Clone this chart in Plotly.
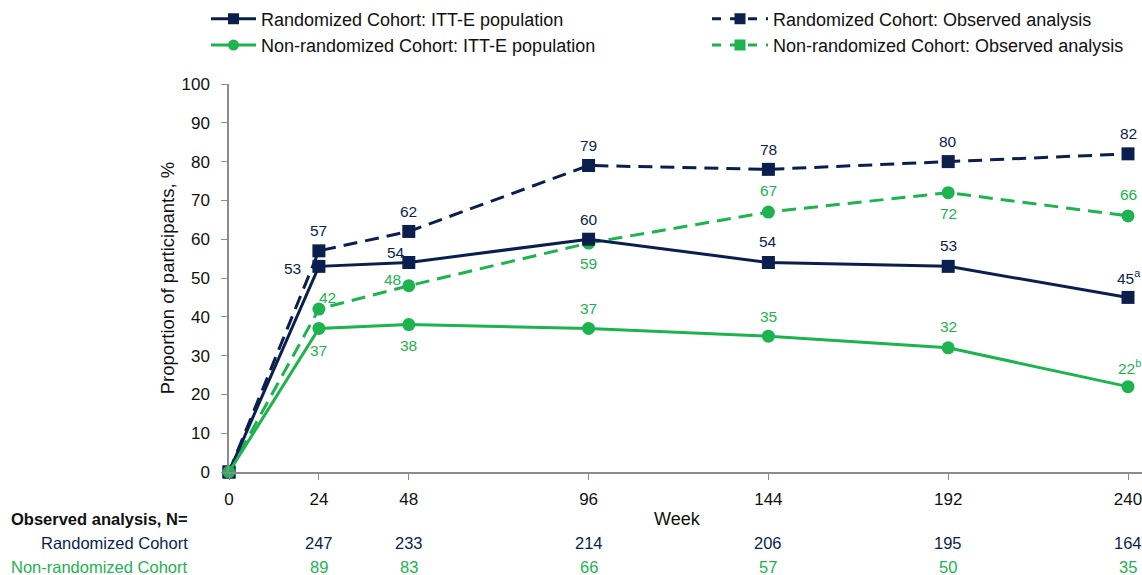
import plotly.graph_objects as go

weeks = [0, 24, 48, 96, 144, 192, 240]
rand_itt = [0, 53, 54, 60, 54, 53, 45]
rand_obs = [0, 57, 62, 79, 78, 80, 82]
nr_itt = [0, 37, 38, 37, 35, 32, 22]
nr_obs = [0, 42, 48, 59, 67, 72, 66]

# footnote marks on last labels
rand_itt_note = ["", "", "", "", "", "", "a"]
nr_itt_note = ["", "", "", "", "", "", "b"]

n_weeks = [24, 48, 96, 144, 192, 240]
n_rand = [247, 233, 214, 206, 195, 164]
n_nr = [89, 83, 66, 57, 50, 35]

NAVY = "#0b1f4f"
GREEN = "#1db34f"
TXT = "#111111"
FONT = "Liberation Sans, Arial, sans-serif"

W, H = 1142, 575
PL, PR, PT, PB = 229, 1142, 82, 472

def px(x):
    return (x - PL) / (PR - PL)

def py(y):
    return (PB - y) / (PB - PT)

fig = go.Figure()

def add(y, color, dash, symbol, name):
    fig.add_trace(go.Scatter(
        x=weeks, y=y, mode="lines+markers",
        line=dict(color=color, width=3, dash=dash),
        marker=dict(color=color, size=13, symbol=symbol),
        cliponaxis=False, showlegend=False, name=name, hoverinfo="skip"))

DASH = "14px,8px"
add(rand_obs, NAVY, DASH, "square", "Randomized Cohort: Observed analysis")
add(nr_obs, GREEN, DASH, "circle", "Non-randomized Cohort: Observed analysis")
add(rand_itt, NAVY, "solid", "square", "Randomized Cohort: ITT-E population")
add(nr_itt, GREEN, "solid", "circle", "Non-randomized Cohort: ITT-E population")

# legend-only entries
for name, color, dash, symbol, leg in [
    ("Randomized Cohort: ITT-E population", NAVY, "solid", "square", "legend"),
    ("Non-randomized Cohort: ITT-E population", GREEN, "solid", "circle", "legend"),
    ("Randomized Cohort: Observed analysis", NAVY, "dash", "square", "legend2"),
    ("Non-randomized Cohort: Observed analysis", GREEN, "dash", "square", "legend2"),
]:
    fig.add_trace(go.Scatter(x=[None], y=[None], mode="lines+markers", name=name,
                             line=dict(color=color, width=3, dash=dash),
                             marker=dict(color=color, size=11, symbol=symbol),
                             legend=leg, showlegend=True))

# data labels (offsets in pixels relative to the point)
def labels(vals, notes, color, offsets):
    for i, (w, v) in enumerate(zip(weeks, vals)):
        if i == 0:
            continue
        dx, dy = offsets[i]
        t = str(v)
        if notes and notes[i]:
            t += "<sup>" + notes[i] + "</sup>"
            dx += 1
        fig.add_annotation(x=w, y=v, xref="x", yref="y", text=t, showarrow=False,
                           xanchor="center", yanchor="middle", xshift=dx, yshift=-dy,
                           font=dict(size=15.5, color=color, family=FONT))

labels(rand_itt, rand_itt_note, NAVY,
       [None, (-26, 2), (-13, -10), (0, -20), (0, -21), (0, -21), (0, -20)])
labels(rand_obs, None, NAVY,
       [None, (0, -20), (0, -20), (0, -20), (0, -20), (0, -20), (0, -20)])
labels(nr_itt, nr_itt_note, GREEN,
       [None, (0, 22), (0, 21), (0, -20), (0, -20), (0, -21), (0, -20)])
labels(nr_obs, None, GREEN,
       [None, (9, -12), (-16, -6), (0, 20), (0, -22), (0, 21), (0, -21)])

axis_color = "#8c8c8c"
fig.update_xaxes(range=[0, 240 * (PR - PL) / 899], tickvals=weeks, ticks="outside", ticklen=6,
                 tickcolor=axis_color, showline=True, linecolor=axis_color, linewidth=1.5,
                 showgrid=False, zeroline=False, ticklabelstandoff=5,
                 ticklabeloverflow="allow",
                 tickfont=dict(size=17, color=TXT, family=FONT))
fig.update_yaxes(range=[0, 100], dtick=10, ticks="outside", ticklen=6,
                 tickcolor=axis_color, showline=True, linecolor=axis_color, linewidth=1.5,
                 showgrid=False, zeroline=False, ticklabelstandoff=8,
                 tickfont=dict(size=17, color=TXT, family=FONT),
                 title=dict(text="Proportion of participants, %",
                            font=dict(size=18.5, color=TXT, family=FONT), standoff=2))

fig.update_layout(
    width=W, height=H,
    margin=dict(l=PL, r=W - PR, t=PT, b=H - PB),
    plot_bgcolor="white", paper_bgcolor="white",
    font=dict(family=FONT),
    hovermode=False,
    legend=dict(x=px(206), y=py(-2), xanchor="left", yanchor="top", orientation="v",
                font=dict(size=18, color=TXT, family=FONT), tracegroupgap=0, itemwidth=45,
                bgcolor="rgba(0,0,0,0)"),
    legend2=dict(x=px(707), y=py(-2), xanchor="left", yanchor="top", orientation="v",
                 font=dict(size=18, color=TXT, family=FONT), tracegroupgap=0, itemwidth=56,
                 bgcolor="rgba(0,0,0,0)"),
)

fig.add_annotation(x=px(677), xref="paper", y=py(519), yref="paper", text="Week",
                   showarrow=False, xanchor="center", yanchor="middle",
                   font=dict(size=18, color=TXT, family=FONT))
fig.add_annotation(x=px(190), xref="paper", y=py(519), yref="paper",
                   text="<b>Observed analysis, N=</b>", showarrow=False,
                   xanchor="right", yanchor="middle",
                   font=dict(size=16.5, color=TXT, family=FONT))
fig.add_annotation(x=px(190), xref="paper", y=py(543), yref="paper",
                   text="Randomized Cohort", showarrow=False, xanchor="right", yanchor="middle",
                   font=dict(size=16.5, color=NAVY, family=FONT))
fig.add_annotation(x=px(190), xref="paper", y=py(567), yref="paper",
                   text="Non-randomized Cohort", showarrow=False, xanchor="right", yanchor="middle",
                   font=dict(size=16.5, color=GREEN, family=FONT))
for w, a, b in zip(n_weeks, n_rand, n_nr):
    fig.add_annotation(x=w, xref="x", y=py(543), yref="paper", text=str(a), showarrow=False,
                       xanchor="center", yanchor="middle",
                       font=dict(size=16.5, color=NAVY, family=FONT))
    fig.add_annotation(x=w, xref="x", y=py(567), yref="paper", text=str(b), showarrow=False,
                       xanchor="center", yanchor="middle",
                       font=dict(size=16.5, color=GREEN, family=FONT))

fig.write_html("out.html", config={"displayModeBar": False},
               post_script="document.body.style.margin='0px';document.body.style.overflow='hidden';")
